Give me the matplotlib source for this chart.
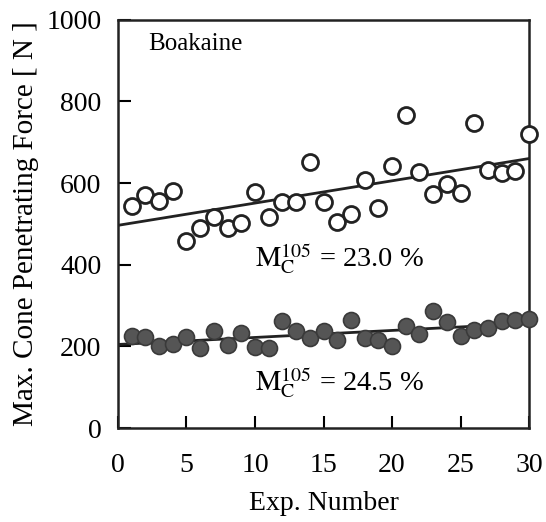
import numpy as np
import matplotlib
matplotlib.use("Agg")
import matplotlib.pyplot as plt

plt.rcParams['font.family'] = ['Liberation Serif', 'DejaVu Serif']
plt.rcParams['mathtext.fontset'] = 'stix'

exp_no = np.arange(1, 31)
# M_C^105 = 23.0 %  (open circles)
force_23 = [544, 571, 556, 581, 458, 490, 517, 490, 502, 578,
            517, 554, 554, 652, 554, 505, 524, 608, 539, 642,
            767, 627, 574, 598, 576, 748, 632, 625, 630, 720]
# M_C^105 = 24.5 %  (filled circles)
force_245 = [225, 222, 200, 205, 222, 197, 238, 203, 232, 198,
             195, 262, 237, 220, 237, 215, 264, 220, 215, 202,
             250, 230, 287, 260, 225, 240, 245, 262, 265, 268]

fig = plt.figure(figsize=(5.46, 5.22), dpi=100)
ax = fig.add_axes([0.216, 0.180, 0.753, 0.782])

xx = np.array([0, 30])
for y in (force_23, force_245):
    k, b = np.polyfit(exp_no, y, 1)
    ax.plot(xx, k * xx + b, color='#222222', lw=2.0, zorder=2)

ax.plot(exp_no, force_23, 'o', ms=11.5, mfc='white', mec='#222222', mew=2.0,
        zorder=3, clip_on=False)
ax.plot(exp_no, force_245, 'o', ms=11.5, mfc='#555555', mec='#3a3a3a', mew=1.2,
        zorder=3, clip_on=False)

ax.text(2.2, 940, 'Boakaine', fontsize=18, va='center')
ax.text(10, 396, r'$\mathrm{M}_{\mathrm{C}}^{105}$ = 23.0 %', fontsize=20.5, va='baseline')
ax.text(10, 92, r'$\mathrm{M}_{\mathrm{C}}^{105}$ = 24.5 %', fontsize=20.5, va='baseline')

ax.set_xlim(0, 30)
ax.set_ylim(0, 1000)
ax.set_xticks(range(0, 31, 5))
ax.set_yticks(range(0, 1001, 200))
ax.tick_params(direction='in', length=9, width=1.5, labelsize=20,
               top=False, right=False)
ax.tick_params(axis='x', pad=18)
ax.tick_params(axis='y', pad=12)
for s in ax.spines.values():
    s.set_linewidth(1.8)
    s.set_color('#222222')

ax.set_xlabel('Exp. Number', fontsize=20, labelpad=9)
ax.set_ylabel('Max. Cone Penetrating Force [ N ]', fontsize=21, labelpad=5)

fig.savefig('out.png', dpi=100)
